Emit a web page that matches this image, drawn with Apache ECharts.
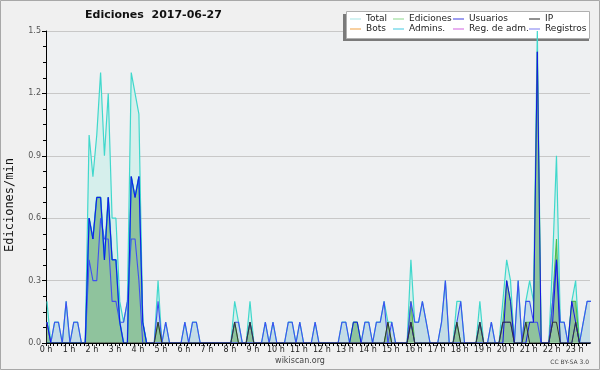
<!DOCTYPE html>
<html><head><meta charset="utf-8">
<script src="https://cdn.jsdelivr.net/npm/echarts@6/dist/echarts.min.js"></script>
<style>html,body{margin:0;padding:0;background:#f0f0f0}#c{width:600px;height:370px}</style>
</head><body><div id="c"></div>
<script>
// 10-minute samples, edits per minute (143 samples: 00:00 .. 23:40)
const total = [
 0.2,0,0.1,0.1,0,0.2,0,0.1,0.1,0,
 0,1.0,0.8,1.0,1.3,0.9,1.2,0.6,0.6,0.2,
 0.1,0.2,1.3,1.2,1.1,0.1,0,0,0,0.3,
 0,0.1,0,0,0,0,0.1,0,0.1,0.1,
 0,0,0,0,0,0,0,0,0,0.2,
 0.1,0,0,0.2,0,0,0,0.1,0,0.1,
 0,0,0,0.1,0.1,0,0.1,0,0,0,
 0.1,0,0,0,0,0,0,0.1,0.1,0,
 0.1,0.1,0,0.1,0.1,0,0.1,0.1,0.2,0.1,
 0.1,0,0,0,0,0.4,0.1,0.1,0.2,0.1,
 0,0,0,0.1,0.3,0,0,0.2,0.2,0,
 0,0,0,0.2,0,0,0.1,0,0,0.2,
 0.4,0.3,0,0.3,0,0.2,0.3,0.2,1.5,0,
 0,0,0.4,0.9,0.1,0.1,0,0.2,0.3,0,
 0.1,0.2,0.2
];
const registros = [
 0.1,0,0.1,0.1,0,0.2,0,0.1,0.1,0,
 0,0.4,0.3,0.3,0.6,0.5,0.5,0.2,0.2,0.1,
 0.1,0.2,0.5,0.5,0.3,0,0,0,0,0.2,
 0,0.1,0,0,0,0,0.1,0,0.1,0.1,
 0,0,0,0,0,0,0,0,0,0.1,
 0.1,0,0,0.1,0,0,0,0.1,0,0.1,
 0,0,0,0.1,0.1,0,0.1,0,0,0,
 0.1,0,0,0,0,0,0,0.1,0.1,0,
 0,0,0,0.1,0.1,0,0.1,0.1,0.2,0,
 0.1,0,0,0,0,0.2,0.1,0.1,0.2,0.1,
 0,0,0,0.1,0.3,0,0,0.1,0.2,0,
 0,0,0,0.1,0,0,0.1,0,0,0.1,
 0.1,0.1,0,0.3,0,0.2,0.2,0.1,0.1,0,
 0,0,0.2,0.4,0.1,0.1,0,0,0.1,0,
 0.1,0.2,0.2
];
const ediciones = [
 0.1,0,0,0,0,0,0,0,0,0,
 0,0.6,0.5,0.7,0.7,0.4,0.7,0.4,0.4,0.1,
 0,0,0.8,0.7,0.8,0.1,0,0,0,0.1,
 0,0,0,0,0,0,0,0,0,0,
 0,0,0,0,0,0,0,0,0,0.1,
 0,0,0,0.1,0,0,0,0,0,0,
 0,0,0,0,0,0,0,0,0,0,
 0,0,0,0,0,0,0,0,0,0,
 0.1,0.1,0,0,0,0,0,0,0,0.1,
 0,0,0,0,0,0.2,0,0,0,0,
 0,0,0,0,0,0,0,0.1,0,0,
 0,0,0,0.1,0,0,0,0,0,0.1,
 0.3,0.2,0,0,0,0.1,0.1,0.1,1.4,0,
 0,0,0.2,0.5,0,0,0,0.2,0.2,0,
 0,0,0
];
const usuarios = [
 0.1,0,0,0,0,0,0,0,0,0,
 0,0.6,0.5,0.7,0.7,0.4,0.7,0.4,0.4,0.1,
 0,0,0.8,0.7,0.8,0.1,0,0,0,0,
 0,0,0,0,0,0,0,0,0,0,
 0,0,0,0,0,0,0,0,0,0,
 0,0,0,0,0,0,0,0,0,0,
 0,0,0,0,0,0,0,0,0,0,
 0,0,0,0,0,0,0,0,0,0,
 0.1,0.1,0,0,0,0,0,0,0,0,
 0,0,0,0,0,0.1,0,0,0,0,
 0,0,0,0,0,0,0,0,0,0,
 0,0,0,0,0,0,0,0,0,0,
 0.3,0.2,0,0,0,0,0.1,0.1,1.4,0,
 0,0,0.1,0.4,0,0,0,0.2,0.1,0,
 0,0,0
];
const ip = [
 0,0,0,0,0,0,0,0,0,0,
 0,0,0,0,0,0,0,0,0,0,
 0,0,0,0,0,0,0,0,0,0.1,
 0,0,0,0,0,0,0,0,0,0,
 0,0,0,0,0,0,0,0,0,0.1,
 0,0,0,0.1,0,0,0,0,0,0,
 0,0,0,0,0,0,0,0,0,0,
 0,0,0,0,0,0,0,0,0,0,
 0,0,0,0,0,0,0,0,0,0.1,
 0,0,0,0,0,0.1,0,0,0,0,
 0,0,0,0,0,0,0,0.1,0,0,
 0,0,0,0.1,0,0,0,0,0,0.1,
 0.1,0.1,0,0,0,0.1,0,0,0,0,
 0,0,0.1,0.1,0,0,0,0,0.1,0,
 0,0,0
];
const admins = [
 0,0,0,0,0,0,0,0,0,0,
 0,0.6,0.5,0.7,0.7,0.4,0.7,0.4,0.4,0.1,
 0,0,0.8,0.7,0.8,0.1,0
];
const bots = [];
const regAdm = [];
const hourLabels = ['0','1','2','3','4','5','6','7','8','9','10','11','12','13','14','15','16','17','18','19','20','21','22','23'];
const legendCols = [['Total','Bots'],['Ediciones','Admins.'],['Usuarios','Reg. de adm.'],['IP','Registros']];

const step = 1/6; // 10 minutes, in hours
const pts = arr => arr.map((v,i)=>[(i+0.25)*step, v]);
const F = 'DejaVu Sans';

const legendColor = {'Total':'#a6e4e4','Ediciones':'#8ad68a','Usuarios':'#3a3ae0','IP':'#222222',
  'Bots':'#f0a040','Admins.':'#40c8e0','Reg. de adm.':'#d060e0','Registros':'#7a7af0'};
const legendLeft = [350,393,453,529];

function area(name, data, color){
  return {name, type:'line', data:pts(data), showSymbol:false, symbol:'none', silent:true,
    lineStyle:{width:0, opacity:0}, areaStyle:{color, opacity:1}, z:2};
}
function line(name, data, color, w){
  return {name, type:'line', data:pts(data), showSymbol:false, symbol:'none',
    lineStyle:{width:w||1.1, color}, itemStyle:{color}, z:3};
}

const chart = echarts.init(document.getElementById('c'), null, {renderer:'canvas'});
chart.setOption({
  animation:false,
  backgroundColor:'#f0f0f0',
  title:{text:'Ediciones  2017-06-27', left:85, top:10, padding:0,
    textStyle:{fontFamily:F, fontSize:11, fontWeight:'bold', color:'#111'}},
  grid:{left:46, right:10, top:31, bottom:27, show:true, backgroundColor:'#eef0f2', borderWidth:0},
  xAxis:{type:'value', min:0, max:142*step, interval:step, z:10,
    axisLine:{lineStyle:{color:'#000', width:1}},
    axisTick:{show:true, length:3, lineStyle:{color:'#000'}},
    splitLine:{show:false},
    axisLabel:{fontFamily:F, fontSize:8, color:'#222', margin:3, showMaxLabel:false,
      formatter:v=>{const r=Math.round(v); return Math.abs(v-r)<1e-6 && hourLabels[r]!==undefined ? hourLabels[r]+' h' : '';}}},
  yAxis:{type:'value', min:0, max:1.5, interval:0.3,
    axisLine:{show:true, lineStyle:{color:'#000'}},
    axisTick:{show:true, length:4, lineStyle:{color:'#000'}},
    minorTick:{show:true, splitNumber:4, length:3, lineStyle:{color:'#000'}},
    splitLine:{lineStyle:{color:'#c8c8c8'}},
    axisLabel:{fontFamily:F, fontSize:8, color:'#555', margin:5, formatter:v=>v.toFixed(1)}},
  legend: legendCols.map((names,k)=>({
    orient:'vertical', left:legendLeft[k], top:14, padding:0, itemGap:0,
    itemWidth:11, itemHeight:1, icon:'rect', selectedMode:false, z:5,
    textStyle:{fontFamily:F, fontSize:9, lineHeight:10, color:'#222'},
    data:names.map(n=>({name:n, itemStyle:{color:legendColor[n]}}))
  })),
  graphic:[
    {type:'rect', shape:{x:0.5,y:0.5,width:599,height:369}, style:{fill:null, stroke:'#a8a8a8', lineWidth:1}, z:100, silent:true},
    {type:'rect', shape:{x:343,y:14,width:246,height:27}, style:{fill:'#7a7a7a'}, z:1, silent:true},
    {type:'rect', shape:{x:346.5,y:11.5,width:243,height:27}, style:{fill:'#ffffff', stroke:'#b0b0b0', lineWidth:1}, z:1, silent:true},
    {type:'text', x:10, y:205, rotation:Math.PI/2, silent:true,
      style:{text:'Ediciones/min', fontFamily:'DejaVu Sans Mono', fontSize:12, fill:'#111', align:'center', verticalAlign:'middle'}},
    {type:'text', x:300, y:361, silent:true,
      style:{text:'wikiscan.org', fontFamily:F, fontSize:8, fill:'#444', align:'center', verticalAlign:'middle'}},
    {type:'text', x:589, y:362, silent:true,
      style:{text:'CC BY-SA 3.0', fontFamily:F, fontSize:6, fill:'#444', align:'right', verticalAlign:'middle'}}
  ],
  series:[
    area('_aTotal', total, '#d6efec'),
    area('_aRegistros', registros, '#c3dce6'),
    area('_aEdiciones', ediciones, '#8fc39d'),
    line('Total', total, '#40d8cc', 1.2),
    line('Ediciones', ediciones, '#4cbf4c', 1.1),
    line('Registros', registros, '#3f50f0', 1.1),
    line('Admins.', admins, '#1fa8e0', 1.5),
    line('Usuarios', usuarios, '#1515e6', 1),
    line('IP', ip, '#333333', 1),
    line('Bots', bots, '#f0a040', 1),
    line('Reg. de adm.', regAdm, '#d060e0', 1)
  ]
});
</script></body></html>
